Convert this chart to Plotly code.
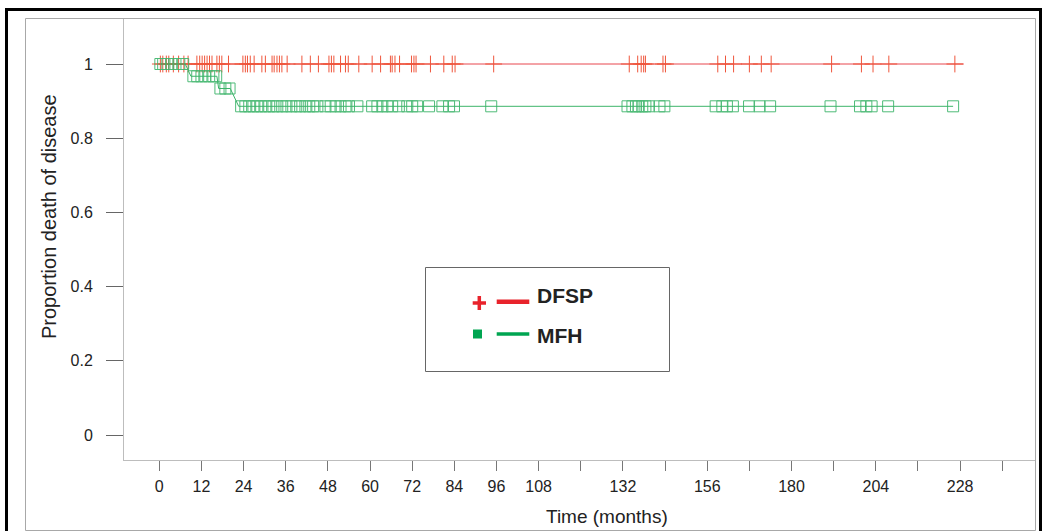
import plotly.graph_objects as go

# ---------------- data ----------------
# DFSP (red) survival curve vertices and censor times (months)
dfsp_t = [0, 229]
dfsp_s = [1.0, 1.0]
dfsp_cens = [0.3, 1.0, 2.0, 2.7, 4.0, 5.5, 7.0, 8.2, 10.7, 11.5, 12.2, 12.9, 13.6, 14.3,
             15.0, 16.4, 17.1, 17.8, 19.7, 23.8, 24.5, 25.1, 25.9, 27.0, 29.2, 30.2, 32.1,
             32.7, 33.5, 34.2, 34.9, 36.4, 40.6, 43.0, 45.3, 48.3, 49.0, 49.7, 51.6, 53.0,
             53.8, 56.8, 60.6, 63.0, 65.8, 66.3, 67.1, 68.4, 71.8, 72.5, 73.1, 77.2, 81.0,
             83.4, 84.2, 95.2, 133.8, 136.2, 137.2, 137.9, 138.4, 143.4, 144.1, 159.0,
             161.2, 163.5, 168.0, 171.4, 174.2, 191.4, 199.9, 203.2, 207.7, 226.5]

# MFH (green) survival curve vertices and censor times (months)
mfh_t = [0, 7.4, 9.0, 16.4, 16.9, 20.2, 22.6, 226]
mfh_s = [1.0, 1.0, 0.967, 0.967, 0.934, 0.934, 0.886, 0.886]
mfh_cens = [0.3, 1.1, 2.3, 3.4, 4.6, 5.7, 6.8,
            9.7, 10.8, 12.0, 13.1, 14.2, 15.4, 16.2,
            17.4, 18.8, 20.0,
            23.3, 24.5, 25.6, 26.8, 27.9, 29.0, 30.2, 31.3, 32.5, 33.6, 35.0, 36.2, 37.6,
            39.0, 40.1, 41.6, 42.7, 43.8, 45.0, 47.3, 48.8, 50.2, 51.6, 53.0, 54.0, 56.4,
            60.6, 62.1, 63.5, 64.9, 66.3, 68.2, 70.6, 72.0, 73.4, 76.8, 80.6, 82.5, 83.9,
            94.5, 133.3, 134.7, 135.7, 136.5, 137.5, 138.4, 139.4, 142.4, 143.8, 158.4,
            160.3, 161.6, 163.3, 167.9, 170.9, 173.9, 191.1, 199.5, 201.3, 202.8, 207.5,
            226.0]

def mfh_level(t):
    lv = mfh_s[0]
    for tt, ss in zip(mfh_t, mfh_s):
        if t >= tt:
            lv = ss
    return lv

mfh_cens_s = [mfh_level(t) for t in mfh_cens]
dfsp_cens_s = [1.0 for _ in dfsp_cens]

x_tickvals = list(range(0, 241, 12))
x_ticktext = ["0", "12", "24", "36", "48", "60", "72", "84", "96", "108", "", "132", "",
              "156", "", "180", "", "204", "", "228", ""]
y_tickvals = [0, 0.2, 0.4, 0.6, 0.8, 1.0]
y_ticktext = ["0", "0.2", "0.4", "0.6", "0.8", "1"]

legend_names = ["DFSP", "MFH"]

RED = "#e8464e"
GREEN = "#3cb46a"
RED_LEG = "#e8232b"
GREEN_LEG = "#00a551"

# ---------------- figure ----------------
W, H = 1042, 531
L, R, T, B = 124, 6, 18, 71
PW, PH = W - L - R, H - T - B

def px(xp):
    return (xp - L) / PW

def py(yp):
    return (H - B - yp) / PH

fig = go.Figure()
fig.add_trace(go.Scatter(x=dfsp_t, y=dfsp_s, mode="lines",
                         line=dict(color=RED, width=1), showlegend=False, hoverinfo="skip"))
fig.add_trace(go.Scatter(x=dfsp_cens, y=dfsp_cens_s, mode="markers",
                         marker=dict(symbol="cross-thin-open", size=12,
                                     line=dict(color=RED, width=1)),
                         showlegend=False))
fig.add_trace(go.Scatter(x=mfh_t, y=mfh_s, mode="lines",
                         line=dict(color=GREEN, width=1), showlegend=False, hoverinfo="skip"))
fig.add_trace(go.Scatter(x=mfh_cens, y=mfh_cens_s, mode="markers",
                         marker=dict(symbol="square-open", size=11, color=GREEN,
                                     line=dict(color=GREEN, width=1)),
                         opacity=0.9, showlegend=False))

font_main = "Liberation Sans, Arial, sans-serif"

fig.update_layout(
    width=W, height=H,
    margin=dict(l=L, r=R, t=T, b=B, pad=0),
    paper_bgcolor="white", plot_bgcolor="white",
    font=dict(family=font_main, color="#222"),
    showlegend=False,
    xaxis=dict(range=[-10.05, 249.6], tickvals=x_tickvals, ticktext=x_ticktext,
               showgrid=False, zeroline=False, showline=True, linecolor="#bdbdbd",
               linewidth=1, ticks="outside", ticklen=10, tickcolor="#777", tickwidth=1,
               tickfont=dict(size=16, color="#222"), ticklabelstandoff=2),
    yaxis=dict(range=[-0.0674, 1.124], tickvals=y_tickvals, ticktext=y_ticktext,
               showgrid=False, zeroline=False, showline=True, linecolor="#bdbdbd",
               linewidth=1, ticks="outside", ticklen=17, tickcolor="#666", tickwidth=1,
               tickfont=dict(size=16, color="#222"), ticklabelstandoff=10),
)

shapes = []
# outer black frame
shapes.append(dict(type="rect", xref="paper", yref="paper",
                   x0=px(6.5), x1=px(1040.5), y0=py(545), y1=py(9.5),
                   line=dict(color="black", width=3), fillcolor="rgba(0,0,0,0)"))
# inner gray frame
shapes.append(dict(type="rect", xref="paper", yref="paper",
                   x0=px(25.5), x1=px(1035.5), y0=py(530.5), y1=py(18.5),
                   line=dict(color="#a8a8a8", width=1), fillcolor="rgba(0,0,0,0)"))
# legend box
shapes.append(dict(type="rect", xref="paper", yref="paper",
                   x0=px(425.5), x1=px(669.5), y0=py(371.5), y1=py(267.5),
                   line=dict(color="#666", width=1), fillcolor="white"))
# legend DFSP: plus and line
shapes.append(dict(type="line", xref="paper", yref="paper",
                   x0=px(472.7), x1=px(486), y0=py(303), y1=py(303),
                   line=dict(color=RED_LEG, width=3.5)))
shapes.append(dict(type="line", xref="paper", yref="paper",
                   x0=px(479.3), x1=px(479.3), y0=py(296), y1=py(310),
                   line=dict(color=RED_LEG, width=3.5)))
shapes.append(dict(type="line", xref="paper", yref="paper",
                   x0=px(496.7), x1=px(529.3), y0=py(301.7), y1=py(301.7),
                   line=dict(color=RED_LEG, width=4.5)))
# legend MFH: square and line
shapes.append(dict(type="rect", xref="paper", yref="paper",
                   x0=px(473), x1=px(482), y0=py(338.5), y1=py(329.5),
                   line=dict(color=GREEN_LEG, width=0), fillcolor=GREEN_LEG))
shapes.append(dict(type="line", xref="paper", yref="paper",
                   x0=px(496.7), x1=px(529.3), y0=py(334), y1=py(334),
                   line=dict(color=GREEN_LEG, width=3.5)))
fig.update_layout(shapes=shapes)

ann = []
ann.append(dict(text=legend_names[0], xref="paper", yref="paper", x=px(535), y=py(295),
                xanchor="left", yanchor="middle", showarrow=False,
                font=dict(size=21, family=font_main, color="#222", weight="bold")))
ann.append(dict(text=legend_names[1], xref="paper", yref="paper", x=px(535), y=py(335),
                xanchor="left", yanchor="middle", showarrow=False,
                font=dict(size=21, family=font_main, color="#222", weight="bold")))
ann.append(dict(text="Time (months)", xref="paper", yref="paper", x=px(607), y=py(516),
                xanchor="center", yanchor="middle", showarrow=False,
                font=dict(size=19, family=font_main, color="#222")))
ann.append(dict(text="Proportion death of disease", xref="paper", yref="paper",
                x=px(49), y=py(217), xanchor="center", yanchor="middle", textangle=-90,
                showarrow=False, font=dict(size=20, family=font_main, color="#222")))
fig.update_layout(annotations=ann)

fig.write_html("out.html",
               config={"displayModeBar": False},
               post_script="document.body.style.margin='0';document.body.style.overflow='hidden';")
